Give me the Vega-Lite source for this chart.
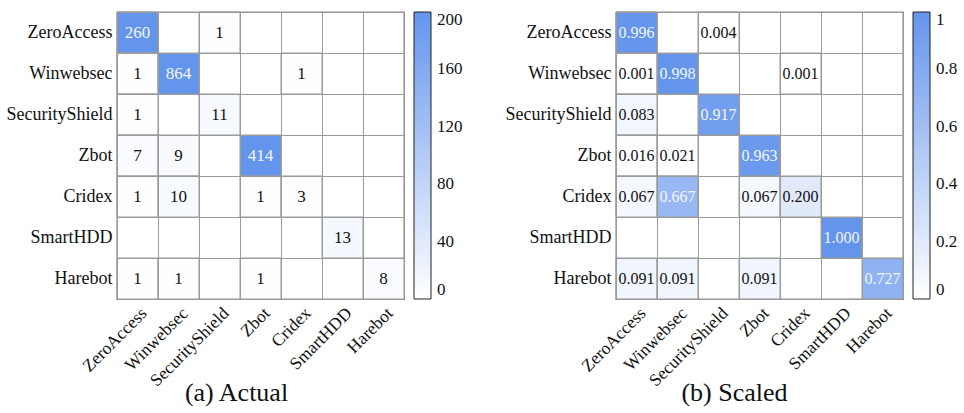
{
  "$schema": "https://vega.github.io/schema/vega-lite/v6.json",
  "padding": {"left": 5, "top": 2, "right": 5, "bottom": 2},
  "autosize": {"type": "pad"},
  "config": {
    "view": {"stroke": "#222", "strokeWidth": 1.2},
    "axis": {"labelFontSize": 18, "labelColor": "#111", "ticks": false, "tickSize": 0, "domain": false, "grid": true, "gridColor": "#9a9a9a", "gridWidth": 1, "tickBand": "extent", "labelPadding": 5}
  },
  "datasets": {
    "actual": [
      {"t": "ZeroAccess", "p": "ZeroAccess", "v": 260},
      {"t": "ZeroAccess", "p": "SecurityShield", "v": 1},
      {"t": "Winwebsec", "p": "ZeroAccess", "v": 1},
      {"t": "Winwebsec", "p": "Winwebsec", "v": 864},
      {"t": "Winwebsec", "p": "Cridex", "v": 1},
      {"t": "SecurityShield", "p": "ZeroAccess", "v": 1},
      {"t": "SecurityShield", "p": "SecurityShield", "v": 11},
      {"t": "Zbot", "p": "ZeroAccess", "v": 7},
      {"t": "Zbot", "p": "Winwebsec", "v": 9},
      {"t": "Zbot", "p": "Zbot", "v": 414},
      {"t": "Cridex", "p": "ZeroAccess", "v": 1},
      {"t": "Cridex", "p": "Winwebsec", "v": 10},
      {"t": "Cridex", "p": "Zbot", "v": 1},
      {"t": "Cridex", "p": "Cridex", "v": 3},
      {"t": "SmartHDD", "p": "SmartHDD", "v": 13},
      {"t": "Harebot", "p": "ZeroAccess", "v": 1},
      {"t": "Harebot", "p": "Winwebsec", "v": 1},
      {"t": "Harebot", "p": "Zbot", "v": 1},
      {"t": "Harebot", "p": "Harebot", "v": 8}
    ],
    "scaled": [
      {"t": "ZeroAccess", "p": "ZeroAccess", "v": 0.996},
      {"t": "ZeroAccess", "p": "SecurityShield", "v": 0.004},
      {"t": "Winwebsec", "p": "ZeroAccess", "v": 0.001},
      {"t": "Winwebsec", "p": "Winwebsec", "v": 0.998},
      {"t": "Winwebsec", "p": "Cridex", "v": 0.001},
      {"t": "SecurityShield", "p": "ZeroAccess", "v": 0.083},
      {"t": "SecurityShield", "p": "SecurityShield", "v": 0.917},
      {"t": "Zbot", "p": "ZeroAccess", "v": 0.016},
      {"t": "Zbot", "p": "Winwebsec", "v": 0.021},
      {"t": "Zbot", "p": "Zbot", "v": 0.963},
      {"t": "Cridex", "p": "ZeroAccess", "v": 0.067},
      {"t": "Cridex", "p": "Winwebsec", "v": 0.667},
      {"t": "Cridex", "p": "Zbot", "v": 0.067},
      {"t": "Cridex", "p": "Cridex", "v": 0.200},
      {"t": "SmartHDD", "p": "SmartHDD", "v": 1.000},
      {"t": "Harebot", "p": "ZeroAccess", "v": 0.091},
      {"t": "Harebot", "p": "Winwebsec", "v": 0.091},
      {"t": "Harebot", "p": "Zbot", "v": 0.091},
      {"t": "Harebot", "p": "Harebot", "v": 0.727}
    ]
  },
  "spacing": 40,
  "hconcat": [
    {
      "width": 287,
      "height": 287,
      "data": {"name": "actual"},
      "encoding": {
        "x": {"field": "p", "type": "nominal", "scale": {"domain": ["ZeroAccess", "Winwebsec", "SecurityShield", "Zbot", "Cridex", "SmartHDD", "Harebot"], "paddingInner": 0, "paddingOuter": 0},
          "axis": {"title": "(a) Actual", "labelFont": "Liberation Serif, serif", "titleFont": "Liberation Serif, serif", "labelAngle": -45, "labelFontSize": 17.5, "titleFontSize": 26, "titleFontWeight": "normal", "titleX": 119, "titleY": 80, "titleBaseline": "top", "titleAlign": "center", "titleColor": "#111"}},
        "y": {"field": "t", "type": "nominal", "scale": {"domain": ["ZeroAccess", "Winwebsec", "SecurityShield", "Zbot", "Cridex", "SmartHDD", "Harebot"], "paddingInner": 0, "paddingOuter": 0}, "axis": {"title": null, "labelFont": "Liberation Serif, serif", "minExtent": 106, "maxExtent": 106}}
      },
      "layer": [
        {
          "mark": {"type": "rect", "stroke": "#9a9a9a", "strokeWidth": 1},
          "encoding": {
            "color": {"field": "v", "type": "quantitative", "scale": {"domain": [0, 200], "range": ["#ffffff", "#6495ED"], "interpolate": "rgb", "clamp": true},
              "legend": {"title": null, "labelFont": "Liberation Serif, serif", "gradientLength": 287, "gradientThickness": 17, "offset": 10, "labelFontSize": 17, "labelColor": "#111", "values": [0, 40, 80, 120, 160, 200], "gradientStrokeColor": "#222", "gradientStrokeWidth": 1, "labelOffset": 6, "direction": "vertical",
                "encoding": {"labels": {"update": {"baseline": {"value": "middle"}}}}}}
          }
        },
        {
          "mark": {"type": "text", "fontSize": 17, "font": "Liberation Serif, serif"},
          "encoding": {
            "text": {"field": "v", "type": "quantitative", "format": "d"},
            "color": {"condition": {"test": "datum.v > 100", "value": "#f4f7ff"}, "value": "#111"}
          }
        }
      ]
    },
    {
      "width": 287,
      "height": 287,
      "data": {"name": "scaled"},
      "encoding": {
        "x": {"field": "p", "type": "nominal", "scale": {"domain": ["ZeroAccess", "Winwebsec", "SecurityShield", "Zbot", "Cridex", "SmartHDD", "Harebot"], "paddingInner": 0, "paddingOuter": 0},
          "axis": {"title": "(b) Scaled", "labelFont": "Liberation Serif, serif", "titleFont": "Liberation Serif, serif", "labelAngle": -45, "labelFontSize": 17.5, "titleFontSize": 26, "titleFontWeight": "normal", "titleX": 118, "titleY": 80, "titleBaseline": "top", "titleAlign": "center", "titleColor": "#111"}},
        "y": {"field": "t", "type": "nominal", "scale": {"domain": ["ZeroAccess", "Winwebsec", "SecurityShield", "Zbot", "Cridex", "SmartHDD", "Harebot"], "paddingInner": 0, "paddingOuter": 0}, "axis": {"title": null, "labelFont": "Liberation Serif, serif", "minExtent": 106, "maxExtent": 106}}
      },
      "layer": [
        {
          "mark": {"type": "rect", "stroke": "#9a9a9a", "strokeWidth": 1},
          "encoding": {
            "color": {"field": "v", "type": "quantitative", "scale": {"domain": [0, 1], "range": ["#ffffff", "#6495ED"], "interpolate": "rgb", "clamp": true},
              "legend": {"title": null, "labelFont": "Liberation Serif, serif", "gradientLength": 287, "gradientThickness": 17, "offset": 10, "labelFontSize": 17, "labelColor": "#111", "values": [0, 0.2, 0.4, 0.6, 0.8, 1], "format": "~g", "gradientStrokeColor": "#222", "gradientStrokeWidth": 1, "labelOffset": 6, "direction": "vertical",
                "encoding": {"labels": {"update": {"baseline": {"value": "middle"}}}}}}
          }
        },
        {
          "mark": {"type": "text", "fontSize": 16, "font": "Liberation Serif, serif"},
          "encoding": {
            "text": {"field": "v", "type": "quantitative", "format": ".3f"},
            "color": {"condition": {"test": "datum.v > 0.5", "value": "#f4f7ff"}, "value": "#111"}
          }
        }
      ]
    }
  ],
  "resolve": {"scale": {"color": "independent"}}
}
